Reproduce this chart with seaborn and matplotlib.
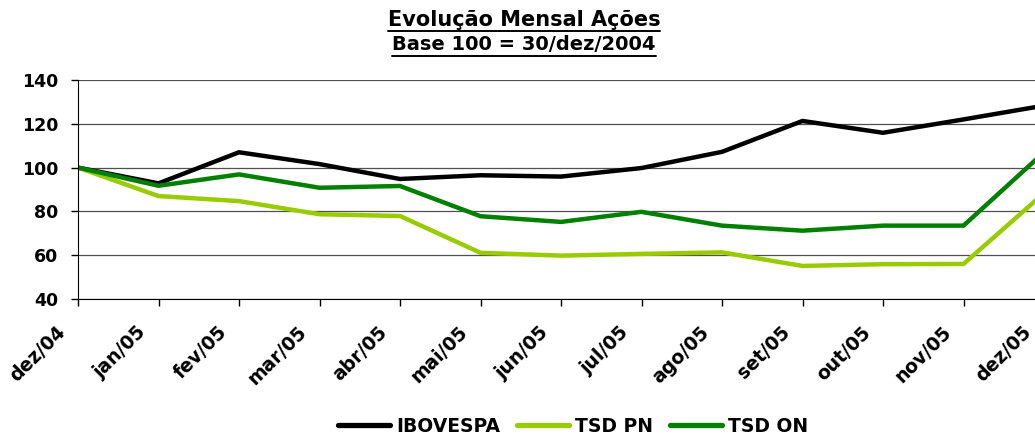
import pandas as pd
import matplotlib.pyplot as plt
import seaborn as sns
from matplotlib.lines import Line2D
from matplotlib.transforms import ScaledTranslation

# NOTE: dados (base 100 = 30/dez/2004)
meses = ['dez/04', 'jan/05', 'fev/05', 'mar/05', 'abr/05', 'mai/05', 'jun/05',
         'jul/05', 'ago/05', 'set/05', 'out/05', 'nov/05', 'dez/05']
ibovespa = [100, 92.8, 107, 101.6, 94.8, 96.5, 95.9, 99.8, 107.2, 121.3, 115.9, 122, 128.3]
tsd_pn = [100, 87, 84.7, 78.7, 77.9, 61.1, 59.8, 60.6, 61.3, 55.1, 55.9, 56, 88.3]
tsd_on = [100, 91.7, 96.9, 90.8, 91.6, 77.8, 75.2, 79.8, 73.5, 71.2, 73.5, 73.5, 107]
series = ['IBOVESPA', 'TSD PN', 'TSD ON']
cores = ['#000000', '#99CC00', '#008000']

df = pd.DataFrame({
    'mes': list(range(len(meses))) * 3,
    'valor': ibovespa + tsd_pn + tsd_on,
    'serie': [s for s in series for _ in meses],
})

sns.set_style('white')
plt.rcParams['font.family'] = ['DejaVu Sans']
plt.rcParams['font.weight'] = 'bold'
plt.rcParams['text.color'] = 'black'

fig = plt.figure(figsize=(10.35, 4.37), dpi=100)
W, H = 1035, 437
# eixo passa da borda direita, como no original
ax = fig.add_axes([78 / W, 1 - 299 / H, (1044 - 78) / W, (299 - 80) / H])

sns.lineplot(data=df, x='mes', y='valor', hue='serie', palette=dict(zip(series, cores)),
             linewidth=3.2, ax=ax, legend=False)

ax.set_xlim(0, 12)
ax.set_ylim(40, 140)
ax.set_yticks(range(40, 141, 20))
ax.set_xticks(range(len(meses)))
ax.set_xticklabels(meses, rotation=45, ha='right', va='top', rotation_mode='anchor')
ax.tick_params(axis='both', bottom=True, left=True, direction='out', length=5, width=1,
               colors='black', labelcolor='black')
ax.tick_params(axis='y', labelsize=12.5, pad=9)
ax.tick_params(axis='x', labelsize=13.5, pad=12)
desloc = ScaledTranslation(-22 / 100, 0, fig.dpi_scale_trans)
for lbl in ax.get_xticklabels():
    lbl.set_fontweight('bold')
    lbl.set_transform(lbl.get_transform() + desloc)
for lbl in ax.get_yticklabels():
    lbl.set_fontweight('bold')
ax.set_xlabel('')
ax.set_ylabel('')
ax.grid(True, axis='y', color='#505050', linewidth=0.9)
ax.grid(False, axis='x')
ax.spines['top'].set_visible(False)
ax.spines['right'].set_visible(False)
ax.spines['left'].set_color('black')
ax.spines['bottom'].set_color('black')

# titulo com sublinhado
t1 = fig.text(524 / W, 1 - 20 / H, 'Evolução Mensal Ações', ha='center', va='center',
              fontsize=15, fontweight='bold')
t2 = fig.text(524 / W, 1 - 45 / H, 'Base 100 = 30/dez/2004', ha='center', va='center',
              fontsize=14, fontweight='bold')
fig.canvas.draw()
r = fig.canvas.get_renderer()
for t in (t1, t2):
    bb = t.get_window_extent(r).transformed(fig.transFigure.inverted())
    fig.add_artist(Line2D([bb.x0, bb.x1], [bb.y0 - 0.003, bb.y0 - 0.003],
                          transform=fig.transFigure, color='black', linewidth=1.4))

handles = [Line2D([0], [0], color=c, linewidth=3.8) for c in cores]
fig.legend(handles, series, loc='center', bbox_to_anchor=(573 / W, 1 - 426 / H), ncol=3,
           frameon=False, handlelength=2.8, columnspacing=0.9, handletextpad=0.3,
           prop={'weight': 'bold', 'size': 13.5})

plt.savefig('out.png', dpi=100)
